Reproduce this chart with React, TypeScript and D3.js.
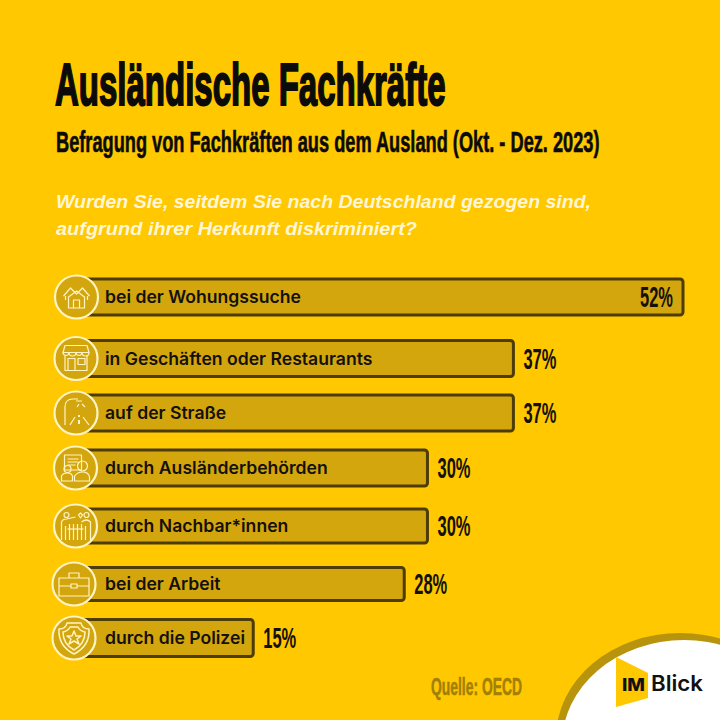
import React from "react";
import * as d3 from "d3";

const categories = ["bei der Wohungssuche", "in Geschäften oder Restaurants", "auf der Straße", "durch Ausländerbehörden", "durch Nachbar*innen", "bei der Arbeit", "durch die Polizei"];
const barValues = [52, 37.4, 37.4, 30, 30, 28, 15];
const valueLabels = ["52%", "37%", "37%", "30%", "30%", "28%", "15%"];
const iconNames = ["house", "shop", "street", "office", "people", "case", "badge"];

const BG = "#ffc800", BAR = "#d4a60e", EDGE = "#4d3c06", CREAM = "#fff4c4";
const narrow = "'Liberation Sans Narrow', 'Liberation Sans', sans-serif";
const labelFont = "Inter, 'Open Sans', sans-serif";

const x = d3.scaleLinear().domain([0, 52]).range([79, 683]);
const y = d3.scaleOrdinal<string, number>().domain(categories).range([297, 358.5, 413, 468, 526, 584, 638]);
const barH = d3.scaleOrdinal<string, number>().domain(categories).range([36, 36, 36, 36, 34, 33, 37]);
const circleX = d3.scaleOrdinal<string, number>().domain(categories).range([76.5, 76, 76, 75.5, 75.5, 74, 74]);

function Icon({ name }: { name: string }) {
  const p = { fill: "none", stroke: CREAM, strokeWidth: 1.2, strokeLinejoin: "round" as const };
  switch (name) {
    case "house":
      return <g {...p}><path d="M-13 -1 L-6 -9 L0 -3 L6 -9 L13 -1" /><path d="M-11 -1 V3 M11 -1 V3" /><path d="M-8 11 V0 L0 -6 L8 0 V11 Z" /><path d="M-3 11 V3 H3 V11" /></g>;
    case "shop":
      return <g {...p}><path d="M-11 -13 H11 L13 -6 H-13 Z" /><path d="M-13 -6 a3 3 0 0 0 6 0 a3 3 0 0 0 7 0 a3 3 0 0 0 6 0 a3 3 0 0 0 7 0" /><path d="M-11 -3 V12 H11 V-3" /><path d="M-8 12 V0 H-1 V12" /><path d="M2 0 H9 V6 H2 Z" /></g>;
    case "street":
      return <g {...p}><path d="M-11 12 V-6 Q-11 -14 -3 -14 H2" /><path d="M0 -12 H6 M3 -9 L1 -6 M6 -9 L9 -6" /><path d="M-6 12 L-1 4 M13 12 L7 4" /><path d="M3 2 V4 M3 7 V11" strokeWidth={2} /></g>;
    case "office":
      return <g {...p}><path d="M-11 -13 H6 V2 H-11 Z" /><path d="M-8 -9 H3 M-8 -6 H3 M-8 -3 H0" /><circle cx={7} cy={-2} r={5} /><path d="M-1 13 V8 Q2 4 7 4 Q13 4 14 9 V13 Z" /><circle cx={-8} cy={1} r={3.5} /><path d="M-14 13 V8 Q-13 5 -8 5 Q-4 5 -3 8 V13 Z" /></g>;
    case "people":
      return <g {...p}><circle cx={-9} cy={-11} r={2.5} /><circle cx={11} cy={-11} r={2.5} /><path d="M-14 14 V-4 Q-13 -7 -9 -7 L0 -9 M6 -4 Q11 -8 15 -4 V14" /><path d="M-10 0 V14 M-6 -2 V14 M-2 -2 V14 M2 -2 V14 M6 -2 V14 M10 0 V14" /><path d="M-8 3 H8" /><path d="M3 -11 l2 -2 l2 2 l-2 3 Z" /></g>;
    case "case":
      return <g {...p}><path d="M-15 -6 H15 V12 H-15 Z" /><path d="M-5 -6 V-11 H5 V-6" /><path d="M-15 2 H-3 M3 2 H15" /><rect x={-3} y={0} width={6} height={4} /></g>;
    default:
      return <g {...p} strokeWidth={1.5}><path d="M-15 -9 Q-8 -9 -7 -15 H7 Q8 -9 15 -9 Q16 8 0 16 Q-16 8 -15 -9 Z" /><path d="M-11 -6 Q-6 -7 -4 -11 H4 Q6 -7 11 -6 Q11 6 0 12 Q-11 6 -11 -6 Z" /><path d="M0 -7 L2 -2 L7 -2 L3 1 L5 6 L0 3 L-5 6 L-3 1 L-7 -2 L-2 -2 Z" /></g>;
  }
}

export default function App() {
  return (
    <svg width={720} height={720} viewBox="0 0 720 720" style={{ position: "absolute", left: 0, top: 0, display: "block" }}>
      <rect width={720} height={720} fill={BG} />
      <text transform="translate(55,105) scale(0.55,1)" fontFamily={narrow} fontWeight={700} fontSize={60} fill="#0b0b0b" stroke="#0b0b0b" strokeWidth={2}>Ausländische Fachkräfte</text>
      <text transform="translate(56,152) scale(0.628,1)" fontFamily={narrow} fontWeight={700} fontSize={29} fill="#0b0b0b" stroke="#0b0b0b" strokeWidth={0.6}>Befragung von Fachkräften aus dem Ausland (Okt. - Dez. 2023)</text>
      <g fontFamily="'Liberation Sans', sans-serif" fontStyle="italic" fontWeight={700} fontSize={18.5} fill="#fff6d8">
        <text x={56} y={208} textLength={535} lengthAdjust="spacingAndGlyphs">Wurden Sie, seitdem Sie nach Deutschland gezogen sind,</text>
        <text x={56} y={235} textLength={361} lengthAdjust="spacingAndGlyphs">aufgrund ihrer Herkunft diskriminiert?</text>
      </g>

      {categories.map((c, i) => {
        const cy = y(c);
        const h = barH(c);
        const inside = barValues[i] > 50;
        return (
          <g key={c}>
            <rect x={x(0)} y={cy - h / 2} width={x(barValues[i]) - x(0)} height={h} rx={3} fill={BAR} stroke={EDGE} strokeWidth={3} />
            <circle cx={circleX(c)} cy={cy} r={21.5} fill={BAR} stroke={CREAM} strokeWidth={2.2} />
            <g transform={`translate(${circleX(c)},${cy})`}><Icon name={iconNames[i]} /></g>
            <text x={105} y={cy + 6} fontFamily={labelFont} fontWeight={600} fontSize={17.6} fill="#14110a">{c}</text>
            <text
              x={inside ? x(barValues[i]) - 10 : x(barValues[i]) + 10}
              y={cy + 10}
              textAnchor={inside ? "end" : "start"}
              fontFamily={narrow}
              fontWeight={700}
              fontSize={29}
              fill="#14110a"
              textLength={33}
              lengthAdjust="spacingAndGlyphs"
            >{valueLabels[i]}</text>
          </g>
        );
      })}

      <text x={431} y={695} fontFamily={narrow} fontWeight={700} fontSize={24} fill="#a17f08" stroke="#a17f08" strokeWidth={0.5} textLength={91} lengthAdjust="spacingAndGlyphs">Quelle: OECD</text>

      <ellipse cx={680} cy={738} rx={124} ry={105} fill="#b8930c" />
      <ellipse cx={684} cy={744} rx={122} ry={104} fill="#ffffff" />
      <path d="M616 657 L648 673 V698 L616 707 Z" fill={BG} />
      <text x={622} y={691} fontFamily="Inter, sans-serif" fontWeight={800} fontSize={18} fill="#111" textLength={23} lengthAdjust="spacingAndGlyphs">IM</text>
      <text x={651} y={691} fontFamily="Inter, sans-serif" fontWeight={600} fontSize={21} fill="#111" textLength={52} lengthAdjust="spacingAndGlyphs">Blick</text>
    </svg>
  );
}
